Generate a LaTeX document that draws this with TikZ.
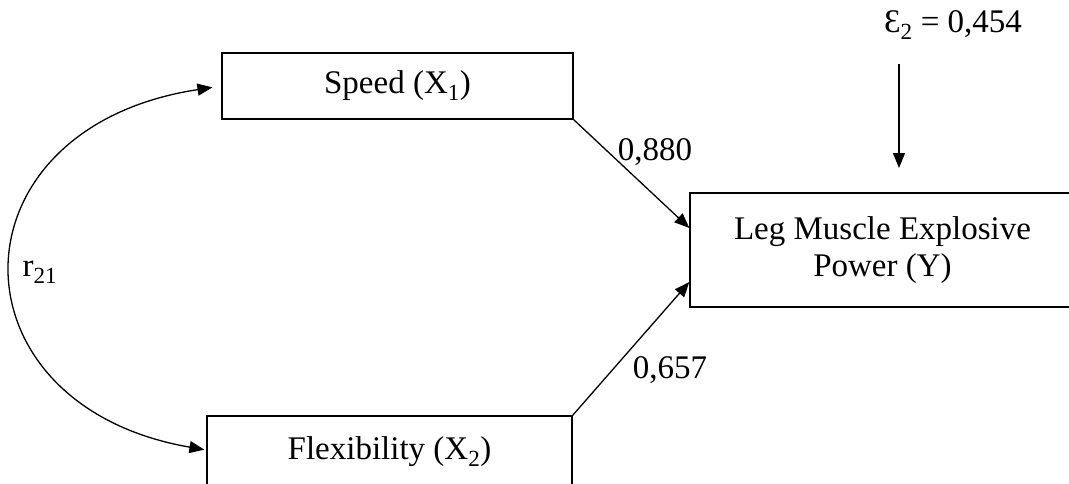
\documentclass[tikz,border=0pt]{standalone}
\usepackage{fontspec}
\setmainfont{Liberation Serif}
\usetikzlibrary{arrows.meta}
\begin{document}
\begin{tikzpicture}[x=1pt,y=-1pt,
  box/.style={draw,line width=1.3pt,inner sep=0pt,align=center,font=\fontsize{33}{37}\selectfont},
  lbl/.style={inner sep=0pt,font=\fontsize{33}{37}\selectfont},
  conn/.style={line width=1.3pt,-{Triangle[length=15pt,width=12pt]}}]
\useasboundingbox (0,0) rectangle (1069,483);
\node[box,minimum width=351pt,minimum height=66pt] (spd) at (397.5,86) {Speed (X\textsubscript{1})};
\node[box,minimum width=365pt,minimum height=72pt] (flx) at (389.5,452) {Flexibility (X\textsubscript{2})};
\node[box,minimum width=385pt,minimum height=114pt] (y) at (882.5,250) {Leg Muscle Explosive\\Power (Y)};
\node[lbl] (eps) at (953,25) {Ɛ\textsubscript{2} = 0,454};
\coordinate (etop) at (899,64);
\draw[conn] (etop) -- (899,168);
\draw[conn] (spd.south east) -- ([yshift=22pt]y.west);
\draw[conn] (flx.north east) -- ([yshift=-32pt]y.west);
\node[lbl] (l1) at (655,152) {0,880};
\node[lbl] (l2) at (670,370) {0,657};
\draw[line width=1.3pt,{Triangle[length=15pt,width=12pt]}-{Triangle[length=15pt,width=12pt]},shorten <=2pt,shorten >=9pt]
  ([yshift=2pt]flx.west) .. controls (-54,405) and (-54,128) .. (spd.west);
\node[lbl] (r) at (40,272) {r\textsubscript{21}};
\end{tikzpicture}
\end{document}
